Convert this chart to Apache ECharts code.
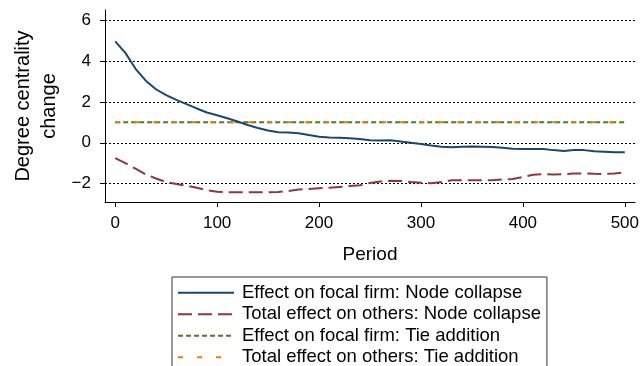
<!DOCTYPE html>
<html>
<head>
<meta charset="utf-8">
<script src="https://cdn.jsdelivr.net/npm/echarts@6/dist/echarts.min.js"></script>
<style>
  html, body { margin: 0; padding: 0; background: #fff; }
  #chart { width: 642px; height: 366px; }
</style>
</head>
<body>
<div id="chart"></div>
<script>
// Simulation periods (x axis)
const periods = [0,10,20,30,40,50,60,70,80,90,100,110,120,130,140,150,160,170,180,190,200,
  210,220,230,240,250,260,270,280,290,300,310,320,330,340,350,360,370,380,390,400,
  410,420,430,440,450,460,470,480,490,500];

// Effect on focal firm: Node collapse
const focalNodeCollapse = [4.96,4.40,3.62,3.04,2.62,2.33,2.10,1.89,1.68,1.48,1.35,1.20,1.04,0.87,0.72,0.60,0.52,0.50,0.47,0.38,0.30,
  0.26,0.24,0.22,0.18,0.12,0.11,0.12,0.06,0.00,-0.06,-0.13,-0.19,-0.22,-0.19,-0.18,-0.19,-0.21,-0.24,-0.29,-0.31,
  -0.30,-0.30,-0.36,-0.40,-0.36,-0.36,-0.42,-0.44,-0.46,-0.46];

// Total effect on others: Node collapse
const othersNodeCollapse = [-0.75,-1.00,-1.27,-1.55,-1.75,-1.92,-2.02,-2.10,-2.20,-2.32,-2.40,-2.42,-2.42,-2.42,-2.42,-2.42,-2.41,-2.36,-2.29,-2.26,-2.23,
  -2.20,-2.16,-2.12,-2.08,-1.97,-1.90,-1.86,-1.87,-1.92,-1.96,-1.98,-1.92,-1.84,-1.83,-1.84,-1.84,-1.83,-1.80,-1.77,-1.68,
  -1.57,-1.54,-1.55,-1.54,-1.51,-1.50,-1.52,-1.53,-1.50,-1.45];

// Tie addition: both effects stay at a constant 1
const focalTieAddition = [1,1,1,1,1,1,1,1,1,1,1,1,1,1,1,1,1,1,1,1,1,1,1,1,1,1,1,1,1,1,1,1,1,1,1,1,1,1,1,1,1,1,1,1,1,1,1,1,1,1,1];
const othersTieAddition = [1,1,1,1,1,1,1,1,1,1,1,1,1,1,1,1,1,1,1,1,1,1,1,1,1,1,1,1,1,1,1,1,1,1,1,1,1,1,1,1,1,1,1,1,1,1,1,1,1,1,1];

// Axis ticks
const xTicks = [0, 100, 200, 300, 400, 500];
const yTicks = [-2, 0, 2, 4, 6];

const seriesNames = [
  'Effect on focal firm: Node collapse',
  'Total effect on others: Node collapse',
  'Effect on focal firm: Tie addition',
  'Total effect on others: Tie addition'
];

const FONT = '"Liberation Sans", Arial, Helvetica, sans-serif';
const pairs = (ys) => periods.map((p, i) => [p, ys[i]]);

const chart = echarts.init(document.getElementById('chart'), null, { renderer: 'canvas' });

chart.setOption({
  animation: false,
  backgroundColor: '#ffffff',
  textStyle: { fontFamily: FONT },
  grid: { left: 105, right: 7, top: 10, bottom: 164, containLabel: false },
  xAxis: {
    type: 'value',
    min: -10, max: 510,
    name: 'Period',
    nameLocation: 'middle',
    nameGap: 43,
    nameTextStyle: { fontSize: 19, color: '#000', fontFamily: FONT },
    axisLine: { show: true, onZero: false, lineStyle: { color: '#000', width: 1 } },
    axisTick: { show: true, length: 5, customValues: xTicks, lineStyle: { color: '#000' } },
    axisLabel: { customValues: xTicks, margin: 13, fontSize: 17, color: '#000', fontFamily: FONT },
    splitLine: { show: false }
  },
  yAxis: {
    type: 'value',
    min: -2.9, max: 6.5,
    axisLine: { show: true, onZero: false, lineStyle: { color: '#000', width: 1 } },
    axisTick: { show: true, length: 5, customValues: yTicks, lineStyle: { color: '#000' } },
    axisLabel: {
      customValues: yTicks, margin: 14, fontSize: 17, color: '#000', fontFamily: FONT,
      formatter: (v) => String(v).replace('-', '\u2212')
    },
    splitLine: { show: false }
  },
  graphic: [{
    type: 'text',
    x: 36, y: 106,
    rotation: Math.PI / 2,
    style: {
      text: 'Degree centrality\nchange',
      fontSize: 20, fontFamily: FONT, fill: '#000',
      align: 'center', verticalAlign: 'middle', lineHeight: 26
    }
  }],
  legend: {
    orient: 'vertical',
    left: 172, top: 277,
    height: 100,
    padding: [5, 6, 14, 5],
    itemGap: 0,
    itemWidth: 56, itemHeight: 12,
    borderColor: '#333', borderWidth: 1,
    itemStyle: { opacity: 0, borderWidth: 0 },
    textStyle: { fontSize: 18.5, lineHeight: 21.5, color: '#000', fontFamily: FONT, padding: [0, 0, 0, 3] },
    data: seriesNames
  },
  series: [
    {
      name: seriesNames[0], type: 'line', data: pairs(focalNodeCollapse),
      symbol: 'none',
      lineStyle: { color: '#1a476f', width: 2 }, itemStyle: { color: '#1a476f' },
      z: 4,
      markLine: {
        silent: true, symbol: 'none', label: { show: false },
        lineStyle: { color: '#000', type: [2, 2], width: 1 },
        data: yTicks.map((v) => ({ yAxis: v })),
        z: 1
      }
    },
    {
      name: seriesNames[1], type: 'line', data: pairs(othersNodeCollapse),
      symbol: 'none',
      lineStyle: { color: '#90353b', width: 2, type: [14, 6] }, itemStyle: { color: '#90353b' },
      z: 4
    },
    {
      name: seriesNames[2], type: 'line', data: pairs(focalTieAddition),
      symbol: 'none',
      lineStyle: { color: '#55752f', width: 2, type: [5, 3] }, itemStyle: { color: '#55752f' },
      z: 3
    },
    {
      name: seriesNames[3], type: 'line', data: pairs(othersTieAddition),
      symbol: 'none',
      lineStyle: { color: '#e37e00', width: 2, type: [5, 14] }, itemStyle: { color: '#e37e00' },
      z: 4
    }
  ]
});
</script>
</body>
</html>
